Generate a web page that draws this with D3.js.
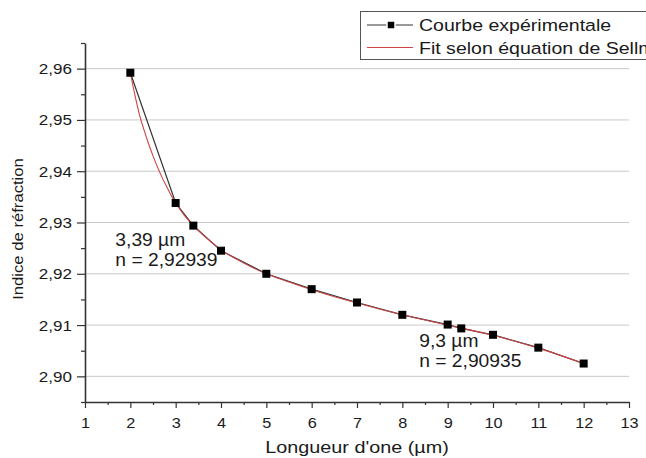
<!DOCTYPE html>
<html>
<head>
<meta charset="utf-8">
<script src="https://cdn.jsdelivr.net/npm/d3@7"></script>
<style>
  body { margin: 0; background: #fff; }
  svg { display: block; font-family: "Liberation Sans", Arial, sans-serif; }
</style>
</head>
<body>
<svg id="chart" width="646" height="458"></svg>
<script>
// Données
const longueurs = [2, 3, 3.39, 4, 5, 6, 7, 8, 9, 9.3, 10, 11, 12];
const indices = [2.9592, 2.9338, 2.92939, 2.9245, 2.9200, 2.9170, 2.9144, 2.9120, 2.9101, 2.90935, 2.9081, 2.9056, 2.9025];

// courbe du fit (Sellmeier), points relevés
const fitLongueurs = [2.0, 2.1, 2.2, 2.3, 2.4, 2.5, 2.6, 2.7, 2.8, 2.9, 3.0, 3.2, 3.4, 3.6, 3.8, 4.0, 4.5, 5, 5.5, 6, 7, 8, 9, 10, 11, 12];
const fitIndices = [2.9592, 2.9549, 2.9511, 2.9481, 2.9454, 2.9430, 2.9408, 2.9388, 2.9370, 2.9353, 2.9338, 2.9313, 2.9293, 2.9276, 2.9261, 2.9247, 2.9221, 2.9200, 2.9184, 2.9169, 2.9143, 2.9120, 2.9100, 2.9080, 2.9055, 2.9025];

const xTicks = [1, 2, 3, 4, 5, 6, 7, 8, 9, 10, 11, 12, 13];
const xMinor = [1.5, 2.5, 3.5, 4.5, 5.5, 6.5, 7.5, 8.5, 9.5, 10.5, 11.5, 12.5];
const yTicks = [2.90, 2.91, 2.92, 2.93, 2.94, 2.95, 2.96];
const yMinor = [2.895, 2.905, 2.915, 2.925, 2.935, 2.945, 2.955, 2.965];

const legendLabels = ["Courbe expérimentale", "Fit selon équation de Sellmeier"];
const annotations = [
  { lines: ["3,39 µm", "n = 2,92939"], x: 3.39, y: 2.92939, dx: -78, dy: 20 },
  { lines: ["9,3 µm", "n = 2,90935"], x: 9.3, y: 2.90935, dx: -42, dy: 18.5 }
];

const svg = d3.select("#chart");
const mLeft = 85, mRight = 629, mTop = 43, mBottom = 402;

const x = d3.scaleLinear().domain([1, 13]).range([mLeft, mRight]);
const y = d3.scaleLinear().domain([2.895, 2.965]).range([mBottom, mTop]);

const fr = d3.formatLocale({ decimal: ",", thousands: " ", grouping: [3], currency: ["", "€"] });
const fmt2 = fr.format(".2f");

const axisColor = "#333";
const textColor = "#1a1a1a";

// grille
svg.append("g")
  .selectAll("line")
  .data(yTicks)
  .enter()
  .append("line")
  .attr("x1", mLeft)
  .attr("x2", mRight)
  .attr("y1", d => y(d))
  .attr("y2", d => y(d))
  .attr("stroke", "#c9c9c9")
  .attr("stroke-width", 1);

// axes : graduations mineures
svg.append("g")
  .attr("transform", `translate(0,${mBottom})`)
  .call(d3.axisBottom(x).tickValues(xMinor).tickSize(3).tickFormat(""))
  .call(g => g.select(".domain").remove())
  .call(g => g.selectAll("line").attr("stroke", axisColor).attr("stroke-width", 1.2));

svg.append("g")
  .attr("transform", `translate(${mLeft},0)`)
  .call(d3.axisLeft(y).tickValues(yMinor).tickSize(4).tickFormat(""))
  .call(g => g.select(".domain").remove())
  .call(g => g.selectAll("line").attr("stroke", axisColor).attr("stroke-width", 1.2));

// axes principaux
const xAxis = svg.append("g")
  .attr("transform", `translate(0,${mBottom})`)
  .call(d3.axisBottom(x).tickValues(xTicks).tickSize(6).tickSizeOuter(0).tickPadding(9).tickFormat(d3.format("d")));

const yAxis = svg.append("g")
  .attr("transform", `translate(${mLeft},0)`)
  .call(d3.axisLeft(y).tickValues(yTicks).tickSize(8).tickSizeOuter(0).tickPadding(5).tickFormat(fmt2));

[xAxis, yAxis].forEach(a => {
  a.select(".domain").attr("stroke", axisColor).attr("stroke-width", 1.6);
  a.selectAll(".tick line").attr("stroke", axisColor).attr("stroke-width", 1.2);
  a.selectAll("text")
    .attr("fill", textColor)
    .style("font-size", "15.5px")
    .style("font-family", "Liberation Sans, Arial, sans-serif");
});
xAxis.selectAll("text").attr("transform", "scale(1.05,1)");
yAxis.selectAll("text").attr("x", -13 / 1.1).attr("transform", "scale(1.1,1)");

// titres des axes
svg.append("text")
  .attr("transform", `translate(${(mLeft + mRight) / 2},453) scale(1.2,1)`)
  .attr("text-anchor", "middle")
  .attr("fill", textColor)
  .style("font-size", "16.5px")
  .text("Longueur d'one (µm)");

svg.append("text")
  .attr("transform", "translate(22.5,229) rotate(-90) scale(1.15,1)")
  .attr("text-anchor", "middle")
  .attr("fill", textColor)
  .style("font-size", "14.5px")
  .text("Indice de réfraction");

// courbes
const expLine = d3.line()
  .x((d, i) => x(longueurs[i]))
  .y(d => y(d));

const fitLine = d3.line()
  .x((d, i) => x(fitLongueurs[i]))
  .y(d => y(d))
  .curve(d3.curveMonotoneX);

svg.append("path")
  .datum(indices)
  .attr("d", expLine)
  .attr("fill", "none")
  .attr("stroke", "#333")
  .attr("stroke-width", 1.2);

svg.append("path")
  .datum(fitIndices)
  .attr("d", fitLine)
  .attr("fill", "none")
  .attr("stroke", "#cc4444")
  .attr("stroke-width", 1.1);

const sq = 8;
svg.append("g")
  .selectAll("rect")
  .data(indices)
  .enter()
  .append("rect")
  .attr("x", (d, i) => x(longueurs[i]) - sq / 2)
  .attr("y", d => y(d) - sq / 2)
  .attr("width", sq)
  .attr("height", sq)
  .attr("fill", "#000");

// annotations
annotations.forEach(a => {
  const t = svg.append("text")
    .attr("transform", `translate(${x(a.x) + a.dx},${y(a.y) + a.dy}) scale(1.1,1)`)
    .attr("fill", textColor)
    .style("font-size", "17.5px");
  a.lines.forEach((l, i) => {
    t.append("tspan").attr("x", 0).attr("y", i * 20).text(l);
  });
});

// légende
const legend = svg.append("g");
legend.append("rect")
  .attr("x", 360.5)
  .attr("y", 11.5)
  .attr("width", 400)
  .attr("height", 48)
  .attr("fill", "#fff")
  .attr("stroke", "#555")
  .attr("stroke-width", 1);

const rowsY = [25, 47.5];
legend.append("line")
  .attr("x1", 367).attr("x2", 413)
  .attr("y1", rowsY[0]).attr("y2", rowsY[0])
  .attr("stroke", "#333").attr("stroke-width", 1.2);
legend.append("rect")
  .attr("x", 391 - 4).attr("y", rowsY[0] - 4)
  .attr("width", 8).attr("height", 8)
  .attr("fill", "#000")
  .attr("stroke", "#fff").attr("stroke-width", 1.5);
legend.append("line")
  .attr("x1", 367).attr("x2", 413)
  .attr("y1", rowsY[1]).attr("y2", rowsY[1])
  .attr("stroke", "#cc4444").attr("stroke-width", 1.1);

legend.selectAll("text.lab")
  .data(legendLabels)
  .enter()
  .append("text")
  .attr("class", "lab")
  .attr("transform", (d, i) => `translate(419,${rowsY[i] + 6}) scale(1.15,1)`)
  .attr("fill", textColor)
  .style("font-size", "17px")
  .text(d => d);
</script>
</body>
</html>
